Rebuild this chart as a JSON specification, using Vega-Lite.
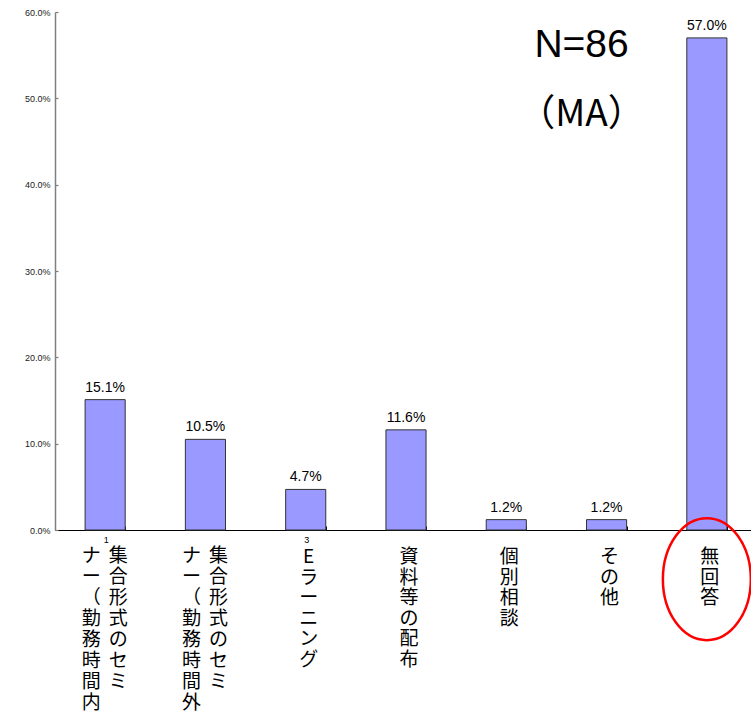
{
  "$schema": "https://vega.github.io/schema/vega-lite/v6.json",
  "autosize": "none",
  "width": 696,
  "height": 518,
  "padding": {"left": 55, "top": 12, "right": 0, "bottom": 182},
  "background": "white",
  "config": {"view": {"stroke": null}},
  "data": {
    "values": [
      {"cat": "集合形式のセミナー（勤務時間内）", "value": 15.1, "label": "15.1%", "colA": ["集","合","形","式","の","セ","ミ"], "colB": ["ナ","ー","（","勤","務","時","間","内","）"], "single": [], "note": "1"},
      {"cat": "集合形式のセミナー（勤務時間外）", "value": 10.5, "label": "10.5%", "colA": ["集","合","形","式","の","セ","ミ"], "colB": ["ナ","ー","（","勤","務","時","間","外","）"], "single": [], "note": ""},
      {"cat": "Eラーニング", "value": 4.7, "label": "4.7%", "colA": [], "colB": [], "single": ["E","ラ","ー","ニ","ン","グ"], "note": "3"},
      {"cat": "資料等の配布", "value": 11.6, "label": "11.6%", "colA": [], "colB": [], "single": ["資","料","等","の","配","布"], "note": ""},
      {"cat": "個別相談", "value": 1.2, "label": "1.2%", "colA": [], "colB": [], "single": ["個","別","相","談"], "note": ""},
      {"cat": "その他", "value": 1.2, "label": "1.2%", "colA": [], "colB": [], "single": ["そ","の","他"], "note": ""},
      {"cat": "無回答", "value": 57.0, "label": "57.0%", "colA": [], "colB": [], "single": ["無","回","答"], "note": ""}
    ]
  },
  "encoding": {
    "x": {
      "field": "cat",
      "type": "nominal",
      "sort": null,
      "scale": {"range": [0, 702], "paddingInner": 0.6, "paddingOuter": 0.3},
      "axis": {
        "title": null,
        "labels": false,
        "domainColor": "#000000",
        "domainWidth": 1.2,
        "tickBand": "extent",
        "tickColor": "#000000",
        "tickSize": -4,
        "tickWidth": 1
      }
    }
  },
  "layer": [
    {
      "mark": {"type": "bar", "fill": "#9999FF", "stroke": "#333333", "strokeWidth": 1},
      "encoding": {
        "y": {
          "field": "value",
          "type": "quantitative",
          "scale": {"domain": [0, 60], "nice": false},
          "axis": {
            "title": null,
            "values": [0, 10, 20, 30, 40, 50, 60],
            "labelExpr": "format(datum.value, '.1f') + '%'",
            "labelFont": "Liberation Sans",
            "labelFontSize": 9,
            "labelColor": "#222222",
            "labelPadding": 8,
            "grid": false,
            "domainColor": "#7f7f7f",
            "domainWidth": 1.5,
            "tickColor": "#7f7f7f",
            "tickSize": -3,
            "tickWidth": 1.2
          }
        }
      }
    },
    {
      "mark": {"type": "text", "baseline": "alphabetic", "dy": -8, "font": "Liberation Sans", "fontSize": 14, "color": "#000000"},
      "encoding": {
        "y": {"field": "value", "type": "quantitative"},
        "text": {"field": "label"}
      }
    },
    {
      "mark": {"type": "text", "baseline": "top", "align": "center", "dy": 17, "dx": 13, "font": "Noto Sans CJK JP", "fontSize": 19, "lineHeight": 21, "color": "#000000"},
      "encoding": {
        "y": {"datum": 0, "type": "quantitative"},
        "text": {"field": "colA"}
      }
    },
    {
      "mark": {"type": "text", "baseline": "top", "align": "center", "dy": 17, "dx": -14, "font": "Noto Sans CJK JP", "fontSize": 19, "lineHeight": 21, "color": "#000000"},
      "encoding": {
        "y": {"datum": 0, "type": "quantitative"},
        "text": {"field": "colB"}
      }
    },
    {
      "mark": {"type": "text", "baseline": "top", "align": "center", "dy": 18, "dx": 3, "font": "Noto Sans CJK JP", "fontSize": 19, "lineHeight": 20.6, "color": "#000000"},
      "encoding": {
        "y": {"datum": 0, "type": "quantitative"},
        "text": {"field": "single"}
      }
    },
    {
      "mark": {"type": "text", "baseline": "top", "align": "center", "dy": 6, "dx": 1, "font": "Liberation Sans", "fontSize": 9, "color": "#000000"},
      "encoding": {
        "y": {"datum": 0, "type": "quantitative"},
        "text": {"field": "note"}
      }
    },
    {
      "data": {"values": [{"cat": "その他", "pos": 54.8, "txt": "N=86"}]},
      "mark": {"type": "text", "baseline": "alphabetic", "align": "center", "dx": -25, "font": "Liberation Sans", "fontSize": 39, "color": "#000000"},
      "encoding": {
        "x": {"field": "cat", "type": "nominal"},
        "y": {"field": "pos", "type": "quantitative"},
        "text": {"field": "txt"}
      }
    },
    {
      "data": {"values": [{"cat": "その他", "pos": 46.8, "txt": "（MA）"}]},
      "mark": {"type": "text", "baseline": "alphabetic", "align": "center", "dx": -25, "font": "Noto Sans CJK JP", "fontSize": 37, "color": "#000000"},
      "encoding": {
        "x": {"field": "cat", "type": "nominal"},
        "y": {"field": "pos", "type": "quantitative"},
        "text": {"field": "txt"}
      }
    },
    {
      "data": {"values": [{"cat": "無回答", "pos": -5.7}]},
      "mark": {"type": "point", "shape": "M0,-1 A0.721,1 0 1,1 0,1 A0.721,1 0 1,1 0,-1 Z", "size": 14884, "filled": false, "stroke": "#FF0000", "strokeWidth": 2.5, "opacity": 1},
      "encoding": {
        "x": {"field": "cat", "type": "nominal"},
        "y": {"field": "pos", "type": "quantitative"}
      }
    }
  ]
}
